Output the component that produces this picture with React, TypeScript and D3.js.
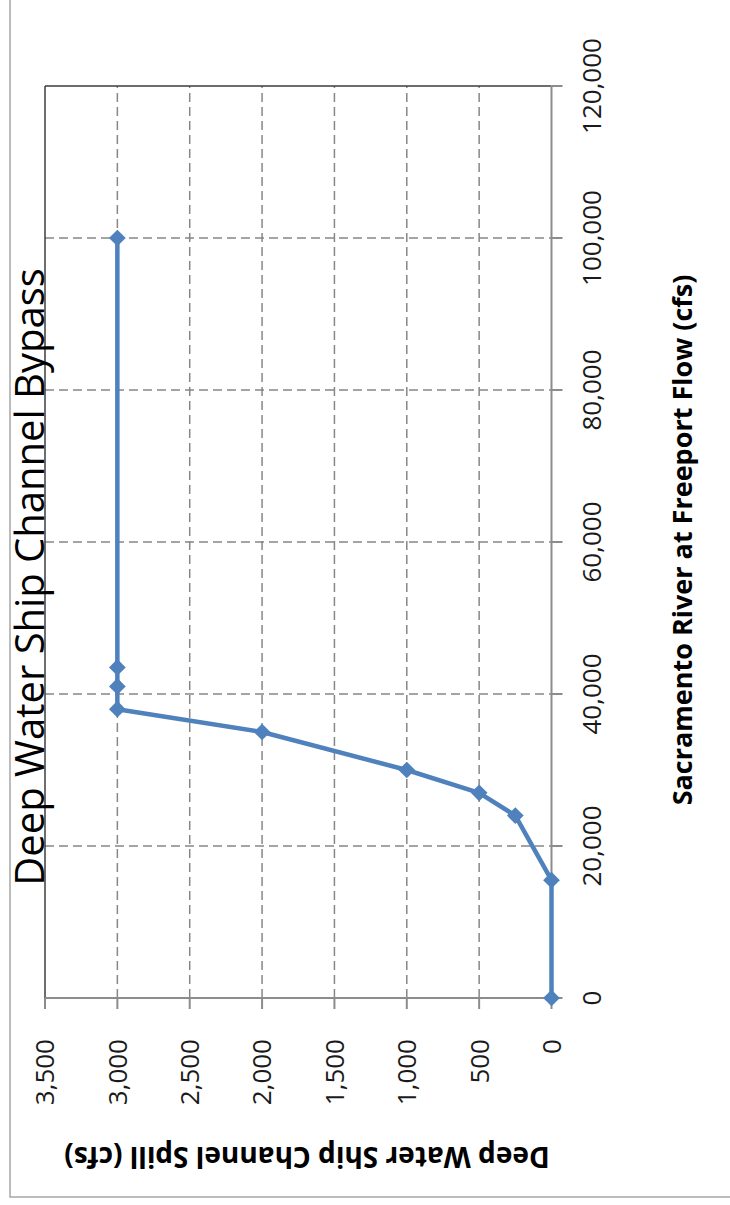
import React, { useRef, useEffect } from 'react';
import * as d3 from 'd3';

// Sacramento River at Freeport flow (cfs) vs Deep Water Ship Channel spill (cfs)
const flow = [0, 15500, 24000, 27000, 30000, 35000, 38000, 41000, 43500, 100000];
const spill = [0, 0, 250, 500, 1000, 2000, 3000, 3000, 3000, 3000];

const flowTicks = [0, 20000, 40000, 60000, 80000, 100000, 120000];
const spillTicks = [0, 500, 1000, 1500, 2000, 2500, 3000, 3500];

const W = 730;
const H = 1205;

export default function App() {
    const svgRef = useRef(null);

    useEffect(() => {
        if (!svgRef.current) return;
        const svg = d3.select(svgRef.current);
        svg.selectAll("*").remove();

        // outer chart frame (cropped at top and right)
        svg.append("rect")
            .attr("x", 10).attr("y", -10)
            .attr("width", 800).attr("height", 1207)
            .attr("fill", "#fff")
            .attr("stroke", "#a6a6a6")
            .attr("stroke-width", 1.5);

        // the whole chart is drawn upright and then turned a quarter counter-clockwise
        const g = svg.append("g")
            .attr("transform", `translate(0,${H}) rotate(-90)`);

        const x = d3.scaleLinear().domain([0, 120000]).range([207, 1119]);
        const y = d3.scaleLinear().domain([0, 3500]).range([551.5, 45]);
        const fmt = d3.format(",");

        // gridlines
        g.append("g").selectAll("line")
            .data(flowTicks.slice(1, -1))
            .enter().append("line")
            .attr("x1", d => x(d)).attr("x2", d => x(d))
            .attr("y1", y(3500)).attr("y2", y(0))
            .attr("stroke", "#878787")
            .attr("stroke-width", 1.5)
            .attr("stroke-dasharray", "9,5");

        g.append("g").selectAll("line")
            .data(spillTicks.slice(1, -1))
            .enter().append("line")
            .attr("x1", x(0)).attr("x2", x(120000))
            .attr("y1", d => y(d)).attr("y2", d => y(d))
            .attr("stroke", "#878787")
            .attr("stroke-width", 1.5)
            .attr("stroke-dasharray", "9,5");

        // plot edges
        g.append("line")
            .attr("x1", x(0)).attr("x2", x(120000))
            .attr("y1", y(3500)).attr("y2", y(3500))
            .attr("stroke", "#3c3c3c").attr("stroke-width", 1.5);
        g.append("line")
            .attr("x1", x(120000)).attr("x2", x(120000))
            .attr("y1", y(3500)).attr("y2", y(0))
            .attr("stroke", "#3c3c3c").attr("stroke-width", 1.5);

        // axes lines and ticks
        g.append("line")
            .attr("x1", x(0)).attr("x2", x(120000))
            .attr("y1", y(0)).attr("y2", y(0))
            .attr("stroke", "#8c8c8c").attr("stroke-width", 2);
        g.append("line")
            .attr("x1", x(0)).attr("x2", x(0))
            .attr("y1", y(3500)).attr("y2", y(0))
            .attr("stroke", "#8c8c8c").attr("stroke-width", 2);

        g.append("g").selectAll("line")
            .data(flowTicks)
            .enter().append("line")
            .attr("x1", d => x(d)).attr("x2", d => x(d))
            .attr("y1", y(0)).attr("y2", y(0) + 11)
            .attr("stroke", "#8c8c8c").attr("stroke-width", 2);

        g.append("g").selectAll("line")
            .data(spillTicks)
            .enter().append("line")
            .attr("x1", x(0) - 11).attr("x2", x(0))
            .attr("y1", d => y(d)).attr("y2", d => y(d))
            .attr("stroke", "#8c8c8c").attr("stroke-width", 2);

        // tick labels
        g.append("g").selectAll("text")
            .data(flowTicks)
            .enter().append("text")
            .attr("x", d => x(d))
            .attr("y", 601)
            .attr("text-anchor", "middle")
            .attr("font-family", "'Open Sans', sans-serif")
            .attr("font-size", 26)
            .attr("fill", "#1a1a1a")
            .text(d => fmt(d));

        g.append("g").selectAll("text")
            .data(spillTicks)
            .enter().append("text")
            .attr("x", 166)
            .attr("y", d => y(d))
            .attr("dy", "0.36em")
            .attr("text-anchor", "end")
            .attr("font-family", "'Open Sans', sans-serif")
            .attr("font-size", 26)
            .attr("fill", "#1a1a1a")
            .text(d => fmt(d));

        // axis titles
        g.append("text")
            .attr("x", 665).attr("y", 692)
            .attr("text-anchor", "middle")
            .attr("font-family", "'Open Sans', sans-serif")
            .attr("font-weight", "bold")
            .attr("font-size", 27)
            .attr("fill", "#000")
            .text("Sacramento River at Freeport Flow (cfs)");

        g.append("text")
            .attr("transform", `translate(58,307) rotate(-90)`)
            .attr("text-anchor", "middle")
            .attr("font-family", "'Open Sans', sans-serif")
            .attr("font-weight", "bold")
            .attr("font-size", 28)
            .attr("fill", "#000")
            .text("Deep Water Ship Channel Spill (cfs)");

        // series
        const pts = flow.map((f, i) => [f, spill[i]]);
        const line = d3.line()
            .x(d => x(d[0]))
            .y(d => y(d[1]));

        g.append("path")
            .datum(pts)
            .attr("fill", "none")
            .attr("stroke", "#4f81bd")
            .attr("stroke-width", 4.5)
            .attr("stroke-linejoin", "round")
            .attr("d", line);

        g.append("g").selectAll("path")
            .data(pts)
            .enter().append("path")
            .attr("transform", d => `translate(${x(d[0])},${y(d[1])}) rotate(45)`)
            .attr("d", d3.symbol().type(d3.symbolSquare).size(140)())
            .attr("fill", "#4f81bd");

        // chart title
        g.append("text")
            .attr("x", 628).attr("y", 44)
            .attr("text-anchor", "middle")
            .attr("font-family", "'Open Sans', sans-serif")
            .attr("font-size", 40)
            .attr("fill", "#000")
            .text("Deep Water Ship Channel Bypass");
    }, []);

    return (
        <svg ref={svgRef} width={W} height={H}
            style={{ position: 'absolute', left: 0, top: 0, background: '#fff' }}></svg>
    );
}
